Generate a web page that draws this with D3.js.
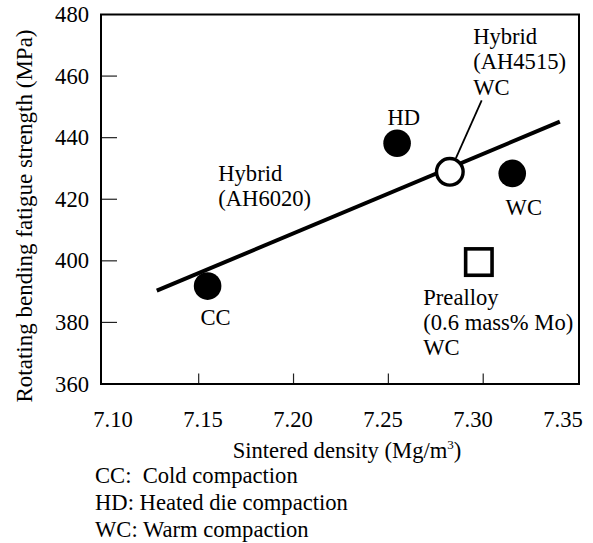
<!DOCTYPE html>
<html>
<head>
<meta charset="utf-8">
<script src="https://cdn.jsdelivr.net/npm/d3@7"></script>
<style>
  body { margin: 0; background: #fff; }
  svg { display: block; }
  text { white-space: pre; }
</style>
</head>
<body>
<div id="chart"></div>
<script>
var width = 593, height = 543;

// plot frame in pixels
var plotL = 101, plotR = 579, plotT = 14.5, plotB = 384;

// data
var xTicks = [7.10, 7.15, 7.20, 7.25, 7.30, 7.35];
var yTicks = [360, 380, 400, 420, 440, 460, 480];
var solidNames = ["CC", "HD", "WC"];
var solidDensity = [7.1547, 7.2546, 7.3153];
var solidStrength = [391.8, 438.2, 428.4];
var hybridDensity = [7.2824];
var hybridStrength = [428.9];
var preDensity = [7.2977];
var preStrength = [399.6];
var fitDensity = [7.1279, 7.3404];
var fitStrength = [390.3, 445.2];
// annotation texts (anchor in data units)
var noteLines = [["CC"], ["HD"], ["WC"], ["Hybrid", "(AH4515)", "WC"], ["Hybrid", "(AH6020)"], ["Prealloy", "(0.6 mass% Mo)", "WC"]];
var noteDensity = [7.1589, 7.2581, 7.3214, 7.2947, 7.1603, 7.2684];
var noteStrength = [379.2, 444.1, 414.9, 470.4, 426.0, 385.7];
var noteAnchor = ["middle", "middle", "middle", "start", "start", "start"];
var pointerEnd = [7.2992, 452.1];
var legendLines = ["CC:  Cold compaction", "HD: Heated die compaction", "WC: Warm compaction"];

var x = d3.scaleLinear().domain([7.0985, 7.3505]).range([plotL, plotR]);
var xLab = d3.scaleLinear().domain([7.10, 7.35]).range([113, 563]);
var y = d3.scaleLinear().domain([360, 480]).range([plotB, plotT]);

var fs = 22.6;

var svg = d3.select("#chart").append("svg")
  .attr("width", width).attr("height", height)
  .attr("font-family", "Liberation Serif");

// inner ticks
svg.selectAll(".xtick").data(xTicks.slice(1, 5)).enter().append("line")
  .attr("x1", function(d){ return x(d); }).attr("x2", function(d){ return x(d); })
  .attr("y1", plotB).attr("y2", plotB - 10.5)
  .attr("stroke", "#222").attr("stroke-width", 1.2);
svg.selectAll(".ytick").data(yTicks.slice(1, 6)).enter().append("line")
  .attr("x1", plotL).attr("x2", plotL + 16)
  .attr("y1", function(d){ return y(d); }).attr("y2", function(d){ return y(d); })
  .attr("stroke", "#222").attr("stroke-width", 1.2);

// frame
svg.append("rect")
  .attr("x", plotL).attr("y", plotT)
  .attr("width", plotR - plotL).attr("height", plotB - plotT)
  .attr("fill", "none").attr("stroke", "#000").attr("stroke-width", 2);

// tick labels
svg.selectAll(".xl").data(xTicks).enter().append("text")
  .attr("x", function(d){ return xLab(d); }).attr("y", 427)
  .attr("text-anchor", "middle").attr("font-size", fs)
  .text(function(d){ return d3.format(".2f")(d); });
svg.selectAll(".yl").data(yTicks).enter().append("text")
  .attr("x", 89).attr("y", function(d){ return y(d) + 7.5; })
  .attr("text-anchor", "end").attr("font-size", fs)
  .text(function(d){ return d; });

// axis titles
var xt = svg.append("text").attr("x", 347).attr("y", 458)
  .attr("text-anchor", "middle").attr("font-size", fs);
xt.append("tspan").text("Sintered density (Mg/m");
xt.append("tspan").attr("font-size", 13).attr("dy", -9).text("3");
xt.append("tspan").attr("dy", 9).text(")");

svg.append("text")
  .attr("transform", "translate(32,216) rotate(-90)")
  .attr("text-anchor", "middle").attr("font-size", 23)
  .text("Rotating bending fatigue strength (MPa)");

// fitted line
svg.append("line")
  .attr("x1", x(fitDensity[0])).attr("y1", y(fitStrength[0]))
  .attr("x2", x(fitDensity[1])).attr("y2", y(fitStrength[1]))
  .attr("stroke", "#000").attr("stroke-width", 4);

// pointer from open circle to its label
var hx = x(hybridDensity[0]), hy = y(hybridStrength[0]);
var px = x(pointerEnd[0]), py = y(pointerEnd[1]);
var len = Math.sqrt((px - hx) * (px - hx) + (py - hy) * (py - hy));
svg.append("line")
  .attr("x1", hx + (px - hx) / len * 15).attr("y1", hy + (py - hy) / len * 15)
  .attr("x2", px).attr("y2", py)
  .attr("stroke", "#000").attr("stroke-width", 1.8);

// filled points
svg.selectAll(".solid").data(solidDensity).enter().append("circle")
  .attr("cx", function(d){ return x(d); })
  .attr("cy", function(d, i){ return y(solidStrength[i]); })
  .attr("r", 13.8).attr("fill", "#000");

// open circle
svg.selectAll(".hyb").data(hybridDensity).enter().append("circle")
  .attr("cx", function(d){ return x(d); })
  .attr("cy", function(d, i){ return y(hybridStrength[i]); })
  .attr("r", 13.3).attr("fill", "#fff")
  .attr("stroke", "#000").attr("stroke-width", 3.4);

// open square
svg.selectAll(".pre").data(preDensity).enter().append("rect")
  .attr("x", function(d){ return x(d) - 13.2; })
  .attr("y", function(d, i){ return y(preStrength[i]) - 13.2; })
  .attr("width", 26.4).attr("height", 26.4)
  .attr("fill", "#fff").attr("stroke", "#000").attr("stroke-width", 3.6);

// annotations
noteLines.forEach(function(lines, i){
  var t = svg.append("text")
    .attr("x", x(noteDensity[i])).attr("y", y(noteStrength[i]))
    .attr("text-anchor", noteAnchor[i]).attr("font-size", fs);
  lines.forEach(function(s, j){
    t.append("tspan").attr("x", x(noteDensity[i]))
      .attr("dy", j == 0 ? 0 : 25.3).text(s);
  });
});

// legend text below
svg.selectAll(".leg").data(legendLines).enter().append("text")
  .attr("x", 95).attr("y", function(d, i){ return 483 + i * 27; })
  .attr("font-size", fs)
  .text(function(d){ return d; });
</script>
</body>
</html>
